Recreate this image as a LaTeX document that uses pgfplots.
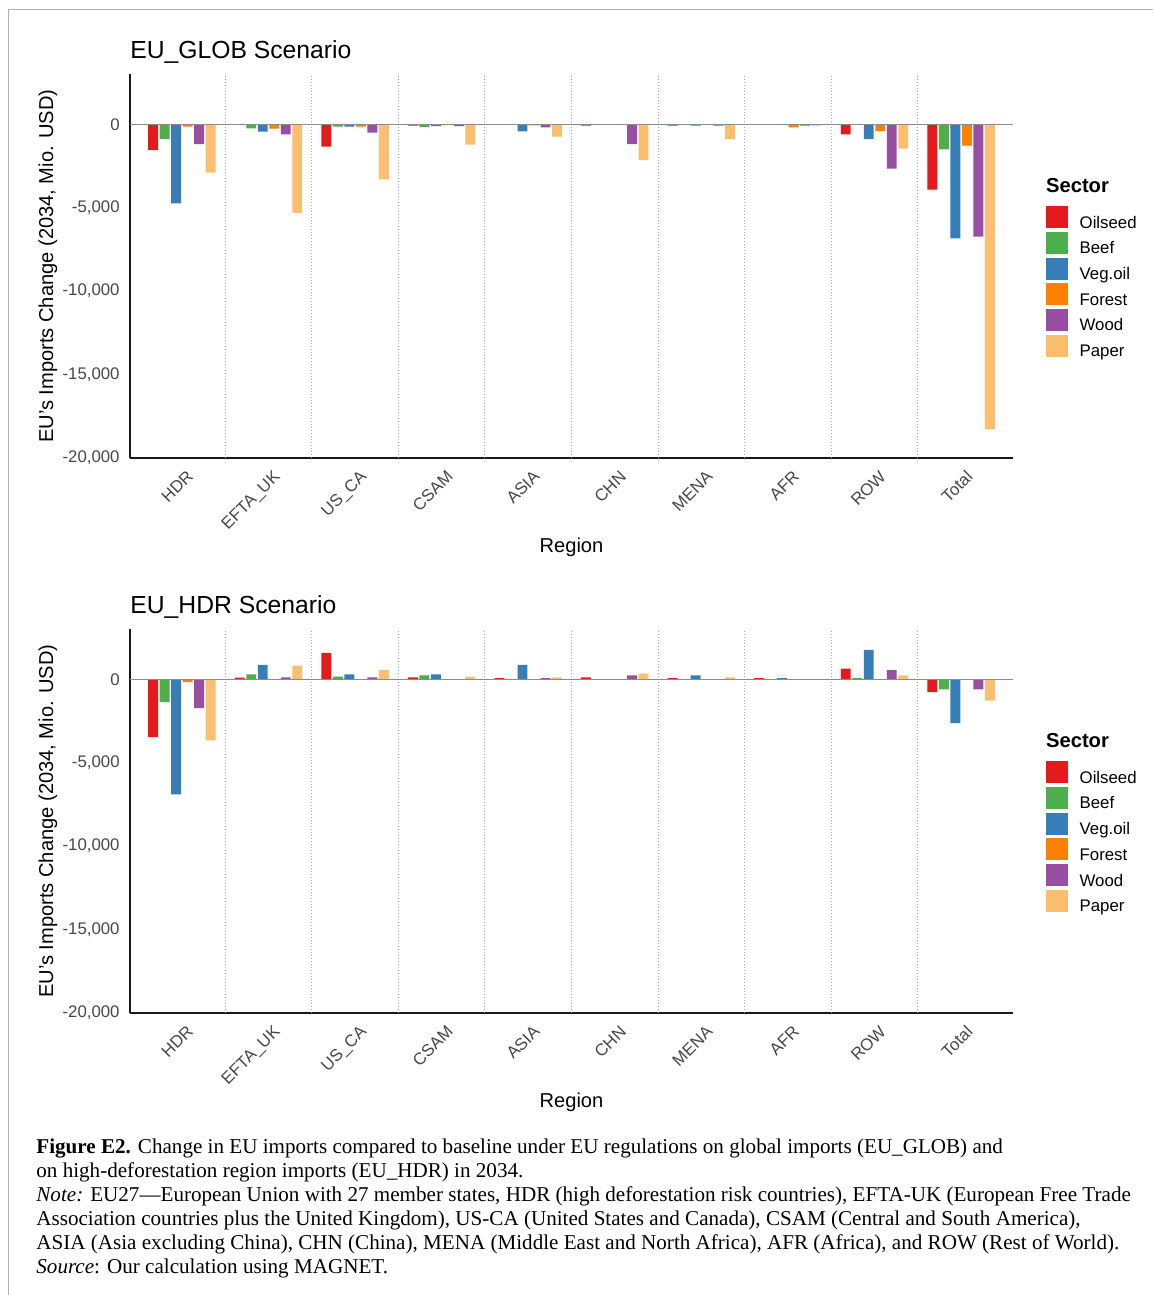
\documentclass[border=0pt]{standalone}
\usepackage{pgfplots}
\pgfplotsset{compat=1.18}
\usepackage{pgfplotstable}
\usepackage{fontspec}
\setmainfont{Liberation Sans}
\newfontfamily\capfont{Liberation Serif}

\definecolor{cOil}{HTML}{E41A1C}
\definecolor{cBeef}{HTML}{4DAF4A}
\definecolor{cVeg}{HTML}{377EB8}
\definecolor{cFor}{HTML}{FF7F00}
\definecolor{cWood}{HTML}{984EA3}
\definecolor{cPap}{HTML}{FDBF6F}

% EU_GLOB scenario
\pgfplotstableread{
x  oil    beef   veg    forest wood   paper
1  -1540  -880   -4740  -140   -1180  -2900
2  0      -240   -440   -260   -600   -5300
3  -1340  -140   -140   -140   -500   -3300
4  -80    -150   -100   0      -100   -1220
5  0      0      -420   -60    -180   -740
6  -80    0      0      0      -1180  -2140
7  -80    0      -80    0      -80    -880
8  0      0      0      -180   -80    -80
9  -600   0      -880   -400   -2660  -1460
10 -3920  -1500  -6830  -1280  -6730  -18280
}\glob

% EU_HDR scenario
\pgfplotstableread{
x  oil    beef   veg    forest wood   paper
1  -3460  -1360  -6900  -160   -1720  -3660
2  100    300    860    0      120    820
3  1580   160    300    0      120    560
4  120    240    300    0      0      160
5  80     0      860    0      80     120
6  120    0      0      0      240    340
7  80     0      240    0      0      120
8  80     0      80     0      0      0
9  640    80     1760   0      560    240
10 -760   -600   -2620  0      -600   -1280
}\hdr

\pgfplotsset{
  scen/.style={
    scale only axis, width=441.5pt, height=191.85pt,
    xmin=0.4, xmax=10.6, ymin=-20000, ymax=3000,
    clip=false,
    axis lines=left,
    axis line style={-, line width=0.75pt, color=black!90},
    ybar=0.8pt, bar width=4.95pt,
    xtick={1,...,10},
    xticklabels={HDR,EFTA\_UK,US\_CA,CSAM,ASIA,CHN,MENA,AFR,ROW,Total},
    ytick={-20000,-15000,-10000,-5000,0},
    yticklabels={{-20,000},{-15,000},{-10,000},{-5,000},{0}},
    scaled y ticks=false,
    major tick length=0pt,
    tick label style={font=\fontsize{8.4pt}{10pt}\selectfont, text=black!72},
    yticklabel style={inner sep=0pt, xshift=-5pt},
    xticklabel style={inner sep=0pt, xshift=2pt, yshift=-5.5pt, rotate=45, anchor=north east},
    xlabel={Region},
    xlabel style={at={(axis description cs:0.5,-0.232)}, anchor=center, font=\fontsize{10.05pt}{12pt}\selectfont},
    ylabel={EU's Imports Change (2034, Mio. USD)},
    ylabel style={at={(axis description cs:-0.0929,0.5)}, anchor=center, font=\fontsize{10.05pt}{12pt}\selectfont},
    title style={at={(axis description cs:0,1)}, anchor=base west, inner sep=0pt, yshift=2pt, font=\fontsize{12.35pt}{14pt}\selectfont},
    legend image code/.code={\fill[#1] (0pt,-2.2pt) rectangle (11pt,8.8pt);},
    legend cell align=left,
    legend style={at={(rel axis cs:1.037,0.6568)}, anchor=north west, draw=none, fill=none,
      inner sep=0pt, outer sep=0pt, row sep=0.3pt,
      nodes={inner sep=0pt},
      font=\fontsize{8.4pt}{10pt}\selectfont,
      /tikz/every odd column/.append style={column sep=6pt}},
    every axis plot/.append style={draw=none},
  }
}

\begin{document}
\begin{tikzpicture}
\path[use as bounding box] (0,0) rectangle (576.5pt,647.5pt);
\draw[black!30, line width=0.5pt] (4pt,0pt) -- (4pt,642.5pt) -- (576.5pt,642.5pt);

\begin{axis}[scen, at={(65pt,418.5pt)}, anchor=south west, title={EU\_GLOB Scenario}]
\pgfplotsinvokeforeach{1.5,2.5,3.5,4.5,5.5,6.5,7.5,8.5,9.5}{
  \draw[black!35, densely dotted, line width=0.5pt] (axis cs:#1,-20000) -- (axis cs:#1,3000);}
\addplot[fill=cOil]  table[x=x,y=oil]    {\glob};
\addplot[fill=cBeef] table[x=x,y=beef]   {\glob};
\addplot[fill=cVeg]  table[x=x,y=veg]    {\glob};
\addplot[fill=cFor]  table[x=x,y=forest] {\glob};
\addplot[fill=cWood] table[x=x,y=wood]   {\glob};
\addplot[fill=cPap]  table[x=x,y=paper]  {\glob};
\legend{Oilseed,Beef,Veg.oil,Forest,Wood,Paper}
\draw[black!45, line width=0.6pt] (axis cs:0.4,0) -- (axis cs:10.6,0);
\node[anchor=base west, inner sep=0pt, font=\fontsize{10.1pt}{12pt}\selectfont\bfseries] at (rel axis cs:1.037,0.6914) {Sector};
\end{axis}

\begin{axis}[scen, at={(65pt,141pt)}, anchor=south west, title={EU\_HDR Scenario}]
\pgfplotsinvokeforeach{1.5,2.5,3.5,4.5,5.5,6.5,7.5,8.5,9.5}{
  \draw[black!35, densely dotted, line width=0.5pt] (axis cs:#1,-20000) -- (axis cs:#1,3000);}
\addplot[fill=cOil]  table[x=x,y=oil]    {\hdr};
\addplot[fill=cBeef] table[x=x,y=beef]   {\hdr};
\addplot[fill=cVeg]  table[x=x,y=veg]    {\hdr};
\addplot[fill=cFor]  table[x=x,y=forest] {\hdr};
\addplot[fill=cWood] table[x=x,y=wood]   {\hdr};
\addplot[fill=cPap]  table[x=x,y=paper]  {\hdr};
\legend{Oilseed,Beef,Veg.oil,Forest,Wood,Paper}
\draw[black!45, line width=0.6pt] (axis cs:0.4,0) -- (axis cs:10.6,0);
\node[anchor=base west, inner sep=0pt, font=\fontsize{10.1pt}{12pt}\selectfont\bfseries] at (rel axis cs:1.037,0.6914) {Sector};
\end{axis}

\node[anchor=north west, inner sep=0pt, align=left, font=\capfont\fontsize{10.55pt}{12pt}\selectfont] at (18pt,78.5pt) {%
\textbf{Figure E2.} Change in EU imports compared to baseline under EU regulations on global imports (EU\_GLOB) and\\
on high-deforestation region imports (EU\_HDR) in 2034.\\
\textit{Note:} EU27—European Union with 27 member states, HDR (high deforestation risk countries), EFTA-UK (European Free Trade\\
Association countries plus the United Kingdom), US-CA (United States and Canada), CSAM (Central and South America),\\
ASIA (Asia excluding China), CHN (China), MENA (Middle East and North Africa), AFR (Africa), and ROW (Rest of World).\\
\textit{Source}: Our calculation using MAGNET.};
\end{tikzpicture}
\end{document}
